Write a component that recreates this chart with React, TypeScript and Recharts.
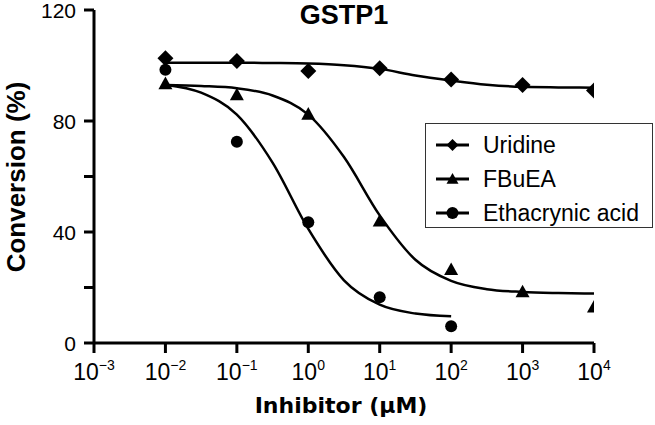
import { ComposedChart, Line, Scatter, XAxis, YAxis } from "recharts";

// measured points (dose in µM, conversion %)
const doses = [0.01, 0.1, 1, 10, 100, 1000, 10000];
const uridine = [102.6, 101.6, 98, 99, 95, 93, 91];
const fbuea = [93.5, 89.5, 82.5, 44, 26.5, 18.5, 13];
const ethacrynicDoses = [0.01, 0.1, 1, 10, 100];
const ethacrynic = [98.5, 72.5, 43.5, 16.5, 6];

// fitted curves at half-decade steps
const fitDoses = [0.01, 0.0316, 0.1, 0.316, 1, 3.16, 10, 31.6, 100, 316, 1000, 3162, 10000];
const uridineFit = [101, 101, 101, 100.9, 100.7, 100.1, 98.8, 96.4, 94.6, 93.1, 92.3, 92.1, 92];
const fbueaFit = [93, 92.6, 91.8, 89.2, 82.3, 67, 46, 30, 22.4, 19.4, 18.4, 18, 17.8];
const ethacrynicFitDoses = [0.01, 0.0316, 0.1, 0.316, 1, 3.16, 10, 31.6, 100];
const ethacrynicFit = [93.1, 90.2, 82.3, 65, 41.1, 22.6, 13.8, 10.6, 9.6];

const xTicks = [0.001, 0.01, 0.1, 1, 10, 100, 1000, 10000];
const xExponents = ["\u22123", "\u22122", "\u22121", "0", "1", "2", "3", "4"];
const yTicks = [0, 20, 40, 60, 80, 120];
const yTickLabels = ["0", "", "40", "", "80", "120"];

const seriesNames = ["Uridine", "FBuEA", "Ethacrynic acid"];

const pairs = (xs: number[], ys: number[]) => xs.map((x, i) => ({ x, y: ys[i] }));

const FONT = "'Liberation Sans', Arial, sans-serif";

function Diamond({ cx, cy, r = 8 }: { cx: number; cy: number; r?: number }) {
  return <path d={`M${cx},${cy - r}L${cx + r},${cy}L${cx},${cy + r}L${cx - r},${cy}Z`} fill="#000" />;
}
function Triangle({ cx, cy, r = 7 }: { cx: number; cy: number; r?: number }) {
  return <path d={`M${cx},${cy - r}L${cx + r},${cy + r * 0.8}L${cx - r},${cy + r * 0.8}Z`} fill="#000" />;
}
function Dot({ cx, cy, r = 6 }: { cx: number; cy: number; r?: number }) {
  return <circle cx={cx} cy={cy} r={r} fill="#000" />;
}
const markers = [Diamond, Triangle, Dot];

function XTick({ x, y, index }: any) {
  return (
    <text x={x} y={y + 27} textAnchor="middle" fontFamily={FONT} fill="#000">
      <tspan fontSize={23}>10</tspan>
      <tspan fontSize={14} dy={-10}>{xExponents[index]}</tspan>
    </text>
  );
}

function YTick({ x, y, index }: any) {
  return (
    <text x={x - 8} y={y} dy={7.5} textAnchor="end" fontFamily={FONT} fontSize={21} fill="#000">
      {yTickLabels[index]}
    </text>
  );
}

function LegendBox() {
  return (
    <div
      style={{
        position: "absolute",
        left: 425,
        top: 123,
        width: 228,
        height: 105,
        border: "1.5px solid #333",
        background: "#fff",
        boxSizing: "border-box",
        padding: "4px 0 0 9px",
        fontFamily: FONT,
        fontSize: 23,
      }}
    >
      {seriesNames.map((name, i) => {
        const M = markers[i];
        return (
          <div key={name} style={{ display: "flex", alignItems: "center", height: 34 }}>
            <svg width={35} height={20} style={{ marginRight: 13 }}>
              <line x1={1} y1={10} x2={34} y2={10} stroke="#000" strokeWidth={3} />
              <M cx={17.5} cy={10} r={6} />
            </svg>
            <span>{name}</span>
          </div>
        );
      })}
    </div>
  );
}

export default function App() {
  return (
    <div style={{ position: "absolute", left: 0, top: 0, width: 655, height: 425, background: "#fff" }}>
      <ComposedChart width={655} height={425} margin={{ top: 10, right: 61, bottom: 10, left: 0 }}>
        <XAxis
          dataKey="x"
          type="number"
          scale="log"
          domain={[0.001, 10000]}
          ticks={xTicks}
          allowDataOverflow
          height={72}
          interval={0}
          tick={<XTick />}
          tickSize={10}
          tickMargin={0}
          axisLine={{ stroke: "#000", strokeWidth: 3 }}
          tickLine={{ stroke: "#000", strokeWidth: 3 }}
          label={{
            content: () => (
              <text
                x={341}
                y={413}
                textAnchor="middle"
                fontFamily="'DejaVu Sans', Verdana, sans-serif"
                fontWeight="bold"
                fontSize={22}
                fill="#000"
              >
                Inhibitor (µM)
              </text>
            ),
          }}
        />
        <YAxis
          type="number"
          domain={[0, 120]}
          ticks={yTicks}
          interval={0}
          width={94}
          tick={<YTick />}
          tickSize={10}
          tickMargin={0}
          axisLine={{ stroke: "#000", strokeWidth: 3 }}
          tickLine={{ stroke: "#000", strokeWidth: 3 }}
          label={{
            content: () => (
              <text
                transform="translate(25,177) rotate(-90)"
                textAnchor="middle"
                fontFamily={FONT}
                fontWeight="bold"
                fontSize={26}
                fill="#000"
              >
                Conversion (%)
              </text>
            ),
          }}
        />
        <Line data={pairs(fitDoses, uridineFit)} dataKey="y" type="monotone" stroke="#000" strokeWidth={2.5} dot={false} isAnimationActive={false} legendType="none" />
        <Line data={pairs(fitDoses, fbueaFit)} dataKey="y" type="monotone" stroke="#000" strokeWidth={2.5} dot={false} isAnimationActive={false} legendType="none" />
        <Line data={pairs(ethacrynicFitDoses, ethacrynicFit)} dataKey="y" type="monotone" stroke="#000" strokeWidth={2.5} dot={false} isAnimationActive={false} legendType="none" />
        <Scatter data={pairs(doses, uridine)} dataKey="y" name={seriesNames[0]} shape={(p: any) => <Diamond cx={p.cx} cy={p.cy} />} isAnimationActive={false} />
        <Scatter data={pairs(doses, fbuea)} dataKey="y" name={seriesNames[1]} shape={(p: any) => <Triangle cx={p.cx} cy={p.cy} />} isAnimationActive={false} />
        <Scatter data={pairs(ethacrynicDoses, ethacrynic)} dataKey="y" name={seriesNames[2]} shape={(p: any) => <Dot cx={p.cx} cy={p.cy} />} isAnimationActive={false} />
      </ComposedChart>
      <div
        style={{
          position: "absolute",
          left: 0,
          width: 688,
          top: 0,
          textAlign: "center",
          fontFamily: FONT,
          fontWeight: "bold",
          fontSize: 27,
          lineHeight: "30px",
        }}
      >
        GSTP1
      </div>
      <LegendBox />
    </div>
  );
}
